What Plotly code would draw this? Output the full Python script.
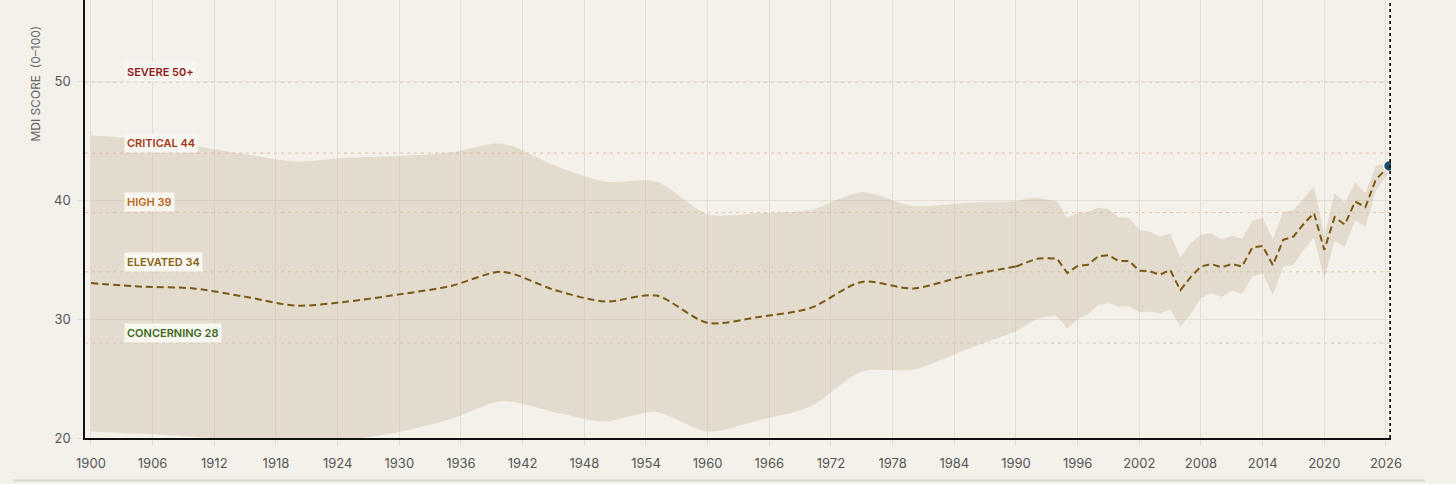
import plotly.graph_objects as go

# ======================
# DATA
# ======================
# sparse early estimates (drawn smooth)
early_years = [1900, 1905, 1910, 1915, 1920, 1925, 1930, 1935, 1940, 1945,
               1950, 1955, 1960, 1965, 1970, 1975, 1980, 1985, 1990]
early_mdi = [33.05, 32.75, 32.6, 31.9, 31.15, 31.5, 32.1, 32.8, 34.0, 32.5,
             31.5, 32.0, 29.7, 30.2, 30.95, 33.15, 32.6, 33.65, 34.45]
early_upper = [45.5, 45.15, 44.6, 43.9, 43.3, 43.6, 43.75, 44.05, 44.8, 43.0,
               41.6, 41.6, 38.85, 38.95, 39.2, 40.7, 39.55, 39.8, 39.92]
early_lower = [20.55, 20.35, 20.1, 19.8, 19.7, 19.85, 20.5, 21.6, 23.1, 22.2,
               21.4, 22.2, 20.55, 21.5, 22.65, 25.6, 25.75, 27.4, 28.97]

# yearly series from 1990 to now
late_years = [1990, 1991, 1992, 1993, 1994, 1995, 1996, 1997, 1998, 1999,
              2000, 2001, 2002, 2003, 2004, 2005, 2006, 2007, 2008, 2009,
              2010, 2011, 2012, 2013, 2014, 2015, 2016, 2017, 2018, 2019,
              2020, 2021, 2022, 2023, 2024, 2025, 2026.3]
late_mdi = [34.45, 34.8, 35.1, 35.15, 35.1, 33.9, 34.5, 34.6, 35.3, 35.4,
            34.9, 34.92, 34.1, 34.05, 33.76, 34.16, 32.45, 33.56, 34.45, 34.66,
            34.38, 34.66, 34.45, 36.05, 36.18, 34.55, 36.7, 36.97, 38.05, 38.94,
            35.85, 38.6, 37.98, 39.92, 39.45, 41.75, 42.92]
late_upper = [39.92, 40.15, 40.24, 40.1, 39.95, 38.55, 38.94, 39.05, 39.42, 39.27,
              38.62, 38.55, 37.53, 37.39, 36.95, 37.22, 35.2, 36.41, 37.15, 37.25,
              36.72, 37.05, 36.77, 38.3, 38.55, 36.75, 39.07, 39.17, 40.2, 41.2,
              37.0, 40.63, 39.82, 41.55, 40.65, 42.9, 43.3]
late_lower = [28.97, 29.5, 30.05, 30.2, 30.25, 29.25, 30.0, 30.45, 31.2, 31.35,
              31.06, 31.1, 30.6, 30.65, 30.48, 30.85, 29.39, 30.45, 31.8, 32.2,
              31.88, 32.4, 32.15, 33.6, 33.85, 32.05, 34.4, 34.58, 35.85, 36.9,
              33.4, 36.6, 36.1, 38.35, 37.8, 40.8, 42.4]

threshold_values = [50, 44, 39, 34, 28]
threshold_labels = ["SEVERE 50+", "CRITICAL 44", "HIGH 39", "ELEVATED 34", "CONCERNING 28"]

x_ticks = [1900, 1906, 1912, 1918, 1924, 1930, 1936, 1942, 1948, 1954, 1960,
           1966, 1972, 1978, 1984, 1990, 1996, 2002, 2008, 2014, 2020, 2026]
y_ticks = [20, 30, 40, 50]

# ======================
# STYLE
# ======================
BG = "#F4F1EA"
BAND = "rgba(196,184,158,0.36)"
LINE = "#7A5816"
GRID = "#E4DFD5"
FONT = "Inter"
label_colors = ["#8E1B1B", "#A5391A", "#B8661C", "#876414", "#3E6A1C"]
rule_colors = ["#D8A3A0", "#E0B9A6", "#E3C6A6", "#D8C8A0", "#D2CCB2"]

fig = go.Figure()

# ======================
# UNCERTAINTY BAND
# ======================
fig.add_trace(go.Scatter(x=early_years, y=early_lower, mode="lines",
                         line=dict(width=0, shape="spline", smoothing=0.8),
                         hoverinfo="skip"))
fig.add_trace(go.Scatter(x=early_years, y=early_upper, mode="lines",
                         line=dict(width=0, shape="spline", smoothing=0.8),
                         fill="tonexty", fillcolor=BAND, hoverinfo="skip"))
fig.add_trace(go.Scatter(x=late_years, y=late_lower, mode="lines",
                         line=dict(width=0), hoverinfo="skip"))
fig.add_trace(go.Scatter(x=late_years, y=late_upper, mode="lines",
                         line=dict(width=0), fill="tonexty", fillcolor=BAND,
                         hoverinfo="skip"))

# ======================
# MDI LINE
# ======================
fig.add_trace(go.Scatter(x=early_years, y=early_mdi, mode="lines",
                         line=dict(color=LINE, width=2, dash="7px,4px",
                                   shape="spline", smoothing=0.8)))
fig.add_trace(go.Scatter(x=late_years, y=late_mdi, mode="lines",
                         line=dict(color=LINE, width=2, dash="7px,4px")))
fig.add_trace(go.Scatter(x=[late_years[-1]], y=[late_mdi[-1]], mode="markers",
                         marker=dict(size=11, color="#1E4D68",
                                     line=dict(color="#FFFFFF", width=1.5))))

# ======================
# THRESHOLDS
# ======================
for val, lab, lc, rc in zip(threshold_values, threshold_labels, label_colors, rule_colors):
    fig.add_shape(type="line", xref="paper", x0=0, x1=1, yref="y", y0=val, y1=val,
                  line=dict(color=rc, width=1, dash="3px,4px"), layer="between")
    fig.add_annotation(xref="paper", x=0.03, xanchor="left", yref="y", y=val,
                       yshift=10, yanchor="middle", text=lab, showarrow=False,
                       font=dict(family=FONT, size=11, color=lc, weight=600),
                       bgcolor="#F8F6F1", borderpad=2)

# now marker line
fig.add_shape(type="line", xref="x", x0=late_years[-1] + 0.12, x1=late_years[-1] + 0.12,
              yref="paper", y0=0, y1=1, line=dict(color="#111111", width=2, dash="dot"))

# container bottom rule
fig.add_shape(type="line", xref="paper", x0=-0.055, x1=1.026, yref="paper",
              y0=-0.097, y1=-0.097, line=dict(color="#DCD7CC", width=2))

fig.add_annotation(xref="paper", x=-0.038, xanchor="center", yref="paper", y=0.81,
                   yanchor="middle", text="MDI SCORE \u00a0(0\u2013100)",
                   textangle=-90, showarrow=False,
                   font=dict(family=FONT, size=12, color="#666666"))

# ======================
# LAYOUT
# ======================
fig.update_layout(
    width=1456, height=484,
    margin=dict(l=85, r=65, t=0, b=46),
    paper_bgcolor=BG, plot_bgcolor=BG,
    showlegend=False,
    font=dict(family=FONT, size=13, color="#555555"),
    xaxis=dict(range=[1899.42, 2026.49], tickvals=x_ticks, showgrid=True,
               gridcolor=GRID, gridwidth=1, zeroline=False, showline=True,
               linecolor="#111111", linewidth=1.5, ticks="outside", ticklen=6,
               tickcolor=GRID, tickfont=dict(family=FONT, size=13, color="#555555"),
               ticklabelstandoff=7),
    yaxis=dict(range=[20, 56.9], tickvals=y_ticks, showgrid=True,
               gridcolor=GRID, gridwidth=1, zeroline=False, showline=True,
               linecolor="#111111", linewidth=1.5, ticks="outside", ticklen=6,
               tickcolor=GRID, tickfont=dict(family=FONT, size=13, color="#555555"),
               ticklabelstandoff=4),
)

# drop the default page margin so the figure sits flush in the window
fig.write_html("out.html", config={"displayModeBar": False},
               post_script="document.body.style.margin='0';"
                           "document.body.style.background='" + BG + "';")
